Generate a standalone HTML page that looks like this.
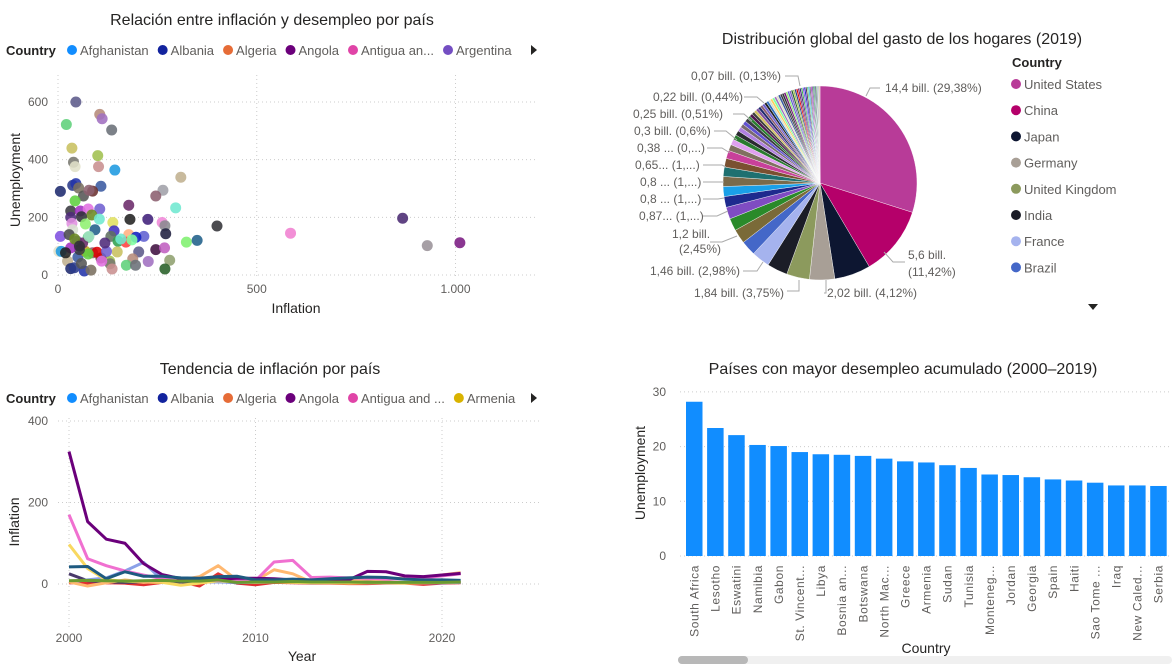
<!DOCTYPE html>
<html><head><meta charset="utf-8">
<style>
html,body{margin:0;padding:0;background:#fff;width:1176px;height:666px;overflow:hidden;font-family:"Liberation Sans",sans-serif}
svg text{font-family:"Liberation Sans",sans-serif}
</style></head>
<body>
<svg id="s" width="1176" height="666" xmlns="http://www.w3.org/2000/svg">
<g id="g1"></g>
<g id="g2"></g>
<g id="g3"></g>
<g id="g4"></g>
</svg>
<script>
// ---------- data ----------
const scatterInflation=[45,105,111,21,135,35,100,39,102,43,143,309,6,37,45,52,108,64,87,78,264,246,43,32,56,76,105,178,296,85,59,32,104,181,226,262,269,400,867,585,929,1011,35,138,69,93,141,37,6,28,178,216,271,323,350,196,133,76,48,151,171,186,246,268,281,269,203,188,227,172,195,149,130,131,136,2,8,24,32,41,66,83,50,59,108,87,98,69,76,54,32,110,122,62,78,42,54,118,158,19];
const scatterUnemployment=[600,557,542,522,503,440,414,391,376,376,364,339,290,311,317,302,308,274,291,294,294,274,257,222,222,229,229,242,233,208,202,200,194,193,193,182,171,170,197,145,102,112,179,182,177,157,153,157,134,140,140,134,143,114,120,131,134,131,117,117,114,122,88,94,51,21,80,56,47,34,34,80,48,39,21,82,82,48,22,25,14,17,62,40,59,77,79,82,73,88,94,48,82,111,134,125,100,111,125,77];
const pieCountries=["United States","China","Japan","Germany","United Kingdom","India","France","Brazil"];
const pieValues=[14.4,5.6,2.9,2.02,1.84,1.65,1.46,1.2,1.15,1.0,0.95,0.87,0.8,0.8,0.75,0.7,0.65,0.5,0.45,0.4,0.38,0.35,0.3,0.3,0.28,0.25,0.25,0.22,0.22,0.22,0.21,0.2,0.2,0.19,0.19,0.18,0.18,0.18,0.17,0.17,0.17,0.16,0.16,0.16,0.15,0.15,0.15,0.14,0.14,0.14,0.13,0.13,0.13,0.12,0.12,0.12,0.11,0.11,0.1,0.1,0.1,0.09,0.09,0.08,0.08,0.07,0.07,0.06,0.05,0.05];
const years=[2000,2001,2002,2003,2004,2005,2006,2007,2008,2009,2010,2011,2012,2013,2014,2015,2016,2017,2018,2019,2020,2021];
const seriesAngola=[325,153,110,100,50,23,13,12,12,14,14,13,10,9,8,10,31,30,20,18,22,26];
const seriesPink=[170,62,45,32,22,13,12,10,9,8,8,54,58,16,17,15,14,12,13,15,20,25];
const seriesYellow=[97,38,10,7,5,4,-3,2,8,5,4,5,4,3,3,2,3,3,2,3,4,5];
const seriesTeal=[42,43,13,30,19,19,15,14,18,19,10,10,12,10,13,15,17,16,12,10,10,9];
const seriesPeri=[5,10,15,32,53,10,8,6,5,4,4,5,5,4,4,4,3,3,3,3,3,4];
const seriesPeach=[5,-5,3,10,4,8,10,18,45,10,8,35,25,5,8,10,12,10,15,16,22,28];
const seriesRed=[3,2,3,2,-2,4,6,-5,25,2,-2,4,3,2,2,1,1,2,2,-1,2,3];
const seriesNavy=[25,8,5,4,5,6,5,4,6,3,4,6,5,3,4,4,5,4,3,3,3,5];
const seriesGreen=[8,9,8,7,8,9,7,7,10,4,5,5,6,5,5,5,4,4,4,4,4,5];
const barCountries=["South Africa","Lesotho","Eswatini","Namibia","Gabon","St. Vincent...","Libya","Bosnia an...","Botswana","North Mac...","Greece","Armenia","Sudan","Tunisia","Monteneg...","Jordan","Georgia","Spain","Haiti","Sao Tome ...","Iraq","New Caled...","Serbia"];
const barValues=[28.2,23.4,22.1,20.3,20.1,19.0,18.6,18.5,18.3,17.8,17.3,17.1,16.6,16.1,14.9,14.8,14.4,14.0,13.8,13.4,12.9,12.9,12.8];

const NS="http://www.w3.org/2000/svg";
function mk(parent,tag,attrs,text){const e=document.createElementNS(NS,tag);for(const k in attrs)e.setAttribute(k,attrs[k]);if(text!==undefined)e.textContent=text;parent.appendChild(e);return e;}
const palette=["#5c5a8a","#b58a7a","#a070c0","#5fd07a","#6a6f78","#c8c060","#a0c050","#787870","#c89090","#e0e0c8","#1e9ae0","#c0b090","#1e2a6e","#2a3a8a","#2233aa","#7a7060","#3a5aa0","#555","#6a3030","#8c6070","#d00","#c0a020","#5fd040","#3a3a40","#a030c0","#e070e0","#7060d0","#6b2a6a","#a0e0c0","#6a8a20","#303038","#4f2a7a","#70e8d0","#222","#40207a","#f088d8","#8a8a90","#781878","#2a9040","#ff7020","#3070c0","#30b040","#e090e0","#e0e060","#90f070","#20608a","#4030c0","#d8e0d0","#8050e0","#4a4a50","#ffb080","#6060d0","#202040","#f0e070","#ffd060","#1020c0","#607060","#50d080","#8060c0","#30a050","#ff4040","#80ffa0","#401040","#c060c0","#90a070","#286028"];
const colorOverride={37:"#333338",38:"#4a2a72",39:"#f080d0",40:"#9a9298",41:"#7a1a82",11:"#c0b090",28:"#70e8d0",53:"#80f070",54:"#20608a",20:"#a0a0a8",21:"#8c6070"};

// ---------- Scatter ----------
(function(){
const g=document.getElementById('g1');
const t=mk(g,'text',{x:272,y:25,'text-anchor':'middle','font-size':16,fill:'#252423'},'Relación entre inflación y desempleo por país');

legend(g,50,[["Afghanistan","#118DFF"],["Albania","#12239E"],["Algeria","#E66C37"],["Angola","#6B007B"],["Antigua an...","#E044A7"],["Argentina","#744EC2"]],'scatter-legend');
const X=v=>58+v*0.3975, Y=v=>275-v*0.2883;
[0,200,400,600].forEach(v=>{const l=mk(g,'line',{x1:58,x2:535,y1:Y(v),y2:Y(v),stroke:'#ccc','stroke-dasharray':'1,3'});
const tx=mk(g,'text',{x:48,y:Y(v)+4,'text-anchor':'end','font-size':12,fill:'#605e5c'},v);});
[[0,'0'],[500,'500'],[1000,'1.000']].forEach(([v,s])=>{const l=mk(g,'line',{x1:X(v),x2:X(v),y1:75,y2:278,stroke:'#ccc','stroke-dasharray':'1,3'});
const tx=mk(g,'text',{x:X(v),y:293,'text-anchor':'middle','font-size':12,fill:'#605e5c'},s);});
const xt=mk(g,'text',{x:296,y:313,'text-anchor':'middle','font-size':14,fill:'#252423'},'Inflation');
const yt=mk(g,'text',{x:20,y:180,'text-anchor':'middle','font-size':14,fill:'#252423',transform:'rotate(-90 20 180)'},'Unemployment');
scatterInflation.forEach((v,i)=>{const col=colorOverride[i]||palette[i%palette.length];
const c=mk(g,'circle',{cx:X(v),cy:Y(scatterUnemployment[i]),r:5.5,fill:col,'fill-opacity':0.88});
});
})();

function legend(g,y,items,name){
const lg=mk(g,'g',{});
const tt=mk(lg,'text',{x:6,y:y+5,'font-size':13,'font-weight':'bold',fill:'#252423'},'Country');
let x=72;
items.forEach(([n,c])=>{const e=mk(lg,'g',{});
mk(e,'circle',{cx:x,cy:y,r:5,fill:c});const tx=mk(e,'text',{x:x+8,y:y+5,'font-size':13,fill:'#605e5c'},n);
x+=8+tx.getComputedTextLength()+14;});
const a=mk(lg,'path',{d:`M531 ${y-5} L537 ${y} L531 ${y+5} Z`,fill:'#252423'});
}

// ---------- Pie ----------
(function(){
const g=document.getElementById('g2');
const t=mk(g,'text',{x:902,y:44,'text-anchor':'middle','font-size':16,fill:'#252423'},'Distribución global del gasto de los hogares (2019)');
const pc=["#B83B98","#B5006A","#0D1631","#A89F96","#8C9A5D","#1B1D27","#A5B3EE","#4467C8","#7A6A38","#2A8A2A","#7F4CC2","#1E2A8E","#1AA0E8","#7A6A4A","#1E7070","#7A5030","#C8409A","#807060","#E0A0F0","#2A7A30","#2A2A30","#B080E0","#7A6A70","#6050D0","#3A3A40","#2A8030","#501850","#404040","#D0C060","#8050A0"];
const cx=820,cy=183,r=97,tot=pieValues.reduce((a,b)=>a+b,0);
let a0=-Math.PI/2;
pieValues.forEach((v,i)=>{const a1=a0+v/tot*2*Math.PI;
const x0=cx+r*Math.cos(a0),y0=cy+r*Math.sin(a0),x1=cx+r*Math.cos(a1),y1=cy+r*Math.sin(a1);
const col=i<pc.length?pc[i]:palette[(i*7)%palette.length];
const p=mk(g,'path',{d:`M${cx} ${cy} L${x0} ${y0} A${r} ${r} 0 ${a1-a0>Math.PI?1:0} 1 ${x1} ${y1} Z`,fill:col,stroke:'#fff','stroke-width':0.4});
a0=a1;});
const labs=[[885,92,'start','14,4 bill. (29,38%)',[[880,88],[870,88],[866,96]]],[908,259,'start','5,6 bill.',[[905,262],[893,262],[884,252]]],[908,276,'start','(11,42%)',null],
[827,297,'start','2,02 bill. (4,12%)',[[824,293],[826,293],[826,280]]],[694,297,'start','1,84 bill. (3,75%)',[[787,291],[799,291],[799,280]]],[650,275,'start','1,46 bill. (2,98%)',[[743,271],[757,271],[763,262]]],
[672,238,'start','1,2 bill.',[[710,242],[722,242],[737,236]]],[679,253,'start','(2,45%)',null],
[639,220,'start','0,87... (1,...)',[[703,216],[717,216],[728,211]]],[640,203,'start','0,8 ... (1,...)',[[703,199],[718,199],[724,198]]],[640,186,'start','0,8 ... (1,...)',[[703,182],[721,182],[724,182]]],[635,169,'start','0,65... (1,...)',[[703,165],[722,165],[726,167]]],[637,152,'start','0,38 ... (0,...)',[[707,148],[722,148],[730,153]]],[634,135,'start','0,3 bill. (0,6%)',[[714,131],[726,131],[737,140]]],[633,118,'start','0,25 bill. (0,51%)',[[733,114],[744,114],[752,121]]],[653,101,'start','0,22 bill. (0,44%)',[[744,97],[757,97],[764,103]]],[691,80,'start','0,07 bill. (0,13%)',[[785,76],[798,76],[800,86]]]];
labs.forEach(([x,y,an,s,pts])=>{const tx=mk(g,'text',{x:x,y:y,'text-anchor':an,'font-size':12,fill:'#605e5c'},s);
if(pts){const l=mk(g,'polyline',{points:pts.map(p=>p.join(',')).join(' '),fill:'none',stroke:'#aaa','stroke-width':1});}});
const lt=mk(g,'text',{x:1012,y:67,'font-size':13,'font-weight':'bold',fill:'#252423'},'Country');
pieCountries.forEach((n,i)=>{const e=mk(g,'g',{});
mk(e,'circle',{cx:1016,cy:84+i*26.2,r:5,fill:pc[i]});mk(e,'text',{x:1024,y:89+i*26.2,'font-size':13,fill:'#605e5c'},n);});
const ar=mk(g,'path',{d:'M1088 304 L1098 304 L1093 310 Z',fill:'#252423'});
})();

// ---------- Line ----------
(function(){
const g=document.getElementById('g3');
const t=mk(g,'text',{x:270,y:374,'text-anchor':'middle','font-size':16,fill:'#252423'},'Tendencia de inflación por país');
legend(g,398,[["Afghanistan","#118DFF"],["Albania","#12239E"],["Algeria","#E66C37"],["Angola","#6B007B"],["Antigua and ...","#E044A7"],["Armenia","#D9B300"]],'line-legend');
const X=y=>69+(y-2000)*18.65, Y=v=>584-v*0.4075;
[0,200,400].forEach(v=>{const l=mk(g,'line',{x1:58,x2:540,y1:Y(v),y2:Y(v),stroke:'#ccc','stroke-dasharray':'1,3'});
const tx=mk(g,'text',{x:48,y:Y(v)+4,'text-anchor':'end','font-size':12,fill:'#605e5c'},v);});
[2000,2010,2020].forEach(v=>{const l=mk(g,'line',{x1:X(v),x2:X(v),y1:418,y2:628,stroke:'#ccc','stroke-dasharray':'1,3'});
const tx=mk(g,'text',{x:X(v),y:642,'text-anchor':'middle','font-size':12,fill:'#605e5c'},v);});
const xt=mk(g,'text',{x:302,y:661,'text-anchor':'middle','font-size':14,fill:'#252423'},'Year');
const yt=mk(g,'text',{x:19,y:522,'text-anchor':'middle','font-size':14,fill:'#252423',transform:'rotate(-90 19 522)'},'Inflation');
const ser=[[seriesRed,"#E03030"],[seriesNavy,"#4A3A6A"],[seriesPeri,"#8AA0E8"],[seriesYellow,"#F8D860"],[seriesPeach,"#FFB870"],[seriesPink,"#F070D0"],[seriesAngola,"#6B007B"],[seriesTeal,"#1E5A80"],[seriesGreen,"#6A9A30"]];
ser.forEach(([d,c])=>{const p=mk(g,'polyline',{points:d.map((v,i)=>X(years[i])+','+Y(v)).join(' '),fill:'none',stroke:c,'stroke-width':3,'stroke-linejoin':'round'});
});
})();

// ---------- Bar ----------
(function(){
const g=document.getElementById('g4');
const t=mk(g,'text',{x:903,y:374,'text-anchor':'middle','font-size':16,fill:'#252423'},'Países con mayor desempleo acumulado (2000–2019)');
const Y=v=>556-v*5.47, pitch=21.1, x0=686;
[0,10,20,30].forEach(v=>{const l=mk(g,'line',{x1:680,x2:1170,y1:Y(v),y2:Y(v),stroke:'#ccc','stroke-dasharray':'1,3'});
const tx=mk(g,'text',{x:666,y:Y(v)+4,'text-anchor':'end','font-size':12,fill:'#605e5c'},v);});
barValues.forEach((v,i)=>{const x=x0+i*pitch;
const b=mk(g,'rect',{x:x,y:Y(v),width:16.5,height:556-Y(v),fill:'#118DFF'});
const tx=mk(g,'text',{x:0,y:0,'text-anchor':'end','font-size':12,fill:'#605e5c','letter-spacing':'0.6',transform:`translate(${x+12.5} 565) rotate(-90)`},barCountries[i]);});
const xt=mk(g,'text',{x:926,y:653,'text-anchor':'middle','font-size':14,fill:'#252423'},'Country');
const yt=mk(g,'text',{x:645,y:473,'text-anchor':'middle','font-size':14,fill:'#252423',transform:'rotate(-90 645 473)'},'Unemployment');
const tr=mk(g,'rect',{x:678,y:656,width:494,height:8,rx:4,fill:'#f0f0f0'});
const th=mk(g,'rect',{x:678,y:656,width:70,height:8,rx:4,fill:'#b8b8b8'});
})();
</script>
</body></html>
